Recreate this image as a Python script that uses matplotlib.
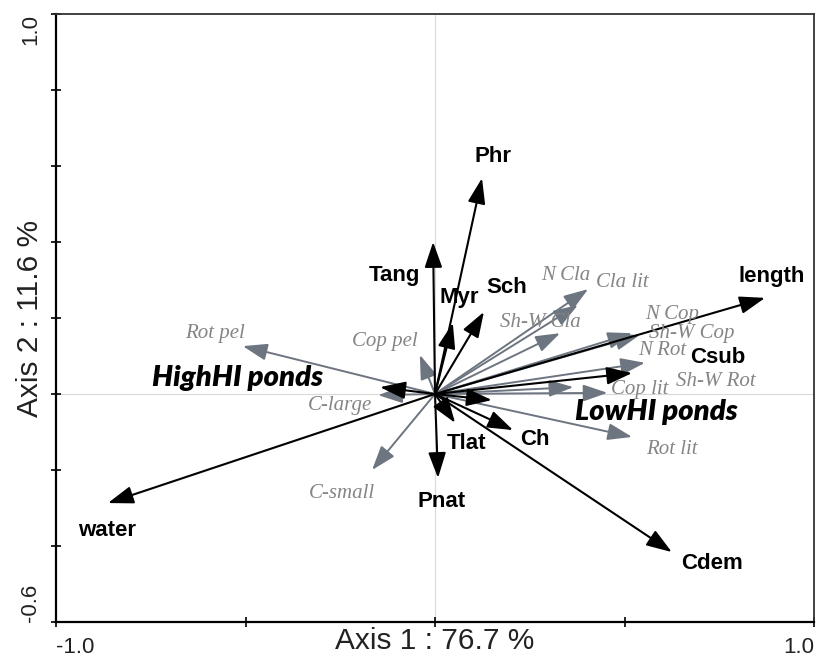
import matplotlib
matplotlib.use('Agg')
import matplotlib.pyplot as plt

# variables ambientales (flechas negras)
env_names = ['Phr', 'Tang', 'Myr', 'Sch', 'length', 'Csub', 'Cdem',
             'water', 'Pnat', 'Tlat', 'Ch']
env_x = [0.124, -0.005, 0.047, 0.129, 0.871, 0.520, 0.625,
         -0.863, 0.008, 0.053, 0.206]
env_y = [0.568, 0.400, 0.187, 0.216, 0.253, 0.055, -0.416,
         -0.287, -0.221, -0.076, -0.095]

# tipos de charca
pond_names = ['HighHI ponds', 'LowHI ponds']
pond_x = [-0.145, 0.150]
pond_y = [0.018, -0.016]

# grupos de zooplancton (flechas grises)
sp_names = ['Rot pel', 'Cop pel', 'C-large', 'C-small', 'Cla lit', 'N Cla',
            'Sh-W Cla', 'N Cop', 'Sh-W Cop', 'N Rot', 'Sh-W Rot', 'Cop lit',
            'Rot lit']
sp_x = [-0.507, -0.040, -0.150, -0.166, 0.404, 0.377,
        0.330, 0.520, 0.540, 0.554, 0.365, 0.455, 0.520]
sp_y = [0.126, 0.103, -0.003, -0.200, 0.276, 0.234,
        0.160, 0.160, 0.155, 0.082, 0.018, 0.003, -0.113]

# posiciones de las etiquetas (centro del texto)
env_lab = [(0.153, 0.624), (-0.106, 0.313), (0.063, 0.255), (0.190, 0.279),
           (0.889, 0.308), (0.747, 0.095), (0.731, -0.445), (-0.865, -0.358),
           (0.018, -0.284), (0.084, -0.129), (0.264, -0.121)]
pond_lab = [(-0.522, 0.042), (0.584, -0.047)]
sp_lab = [(-0.580, 0.160), (-0.132, 0.137), (-0.250, -0.029), (-0.245, -0.263),
          (0.493, 0.293), (0.346, 0.313), (0.277, 0.189), (0.625, 0.208),
          (0.678, 0.160), (0.600, 0.115), (0.741, 0.034), (0.541, 0.011),
          (0.625, -0.147)]

GRIS = '#6d7580'
GRIS_TXT = '#858585'

fig = plt.figure(figsize=(8.16, 6.6), dpi=100)
ax = fig.add_axes([56 / 816, 1 - 622 / 660, 758 / 816, 608 / 660])
ax.set_xlim(-1.0, 1.0)
ax.set_ylim(-0.6, 1.0)

ax.axhline(0, color='#d9d9d9', lw=0.8, zorder=0)
ax.axvline(0, color='#d9d9d9', lw=0.8, zorder=0)


def flecha(x, y, color, lw, ms):
    ax.annotate('', xy=(x, y), xytext=(0, 0),
                arrowprops=dict(arrowstyle='-|>,head_length=1.3,head_width=0.45',
                                color=color, lw=lw, shrinkA=0, shrinkB=0,
                                mutation_scale=ms))


for x, y in zip(sp_x, sp_y):
    flecha(x, y, GRIS, 1.4, 11.5)
for x, y in zip(env_x, env_y):
    flecha(x, y, 'black', 1.5, 12)
for x, y in zip(pond_x, pond_y):
    flecha(x, y, 'black', 1.5, 12)

for name, (lx, ly) in zip(sp_names, sp_lab):
    ax.text(lx, ly, name, ha='center', va='center', color=GRIS_TXT,
            family='Liberation Serif', style='italic', fontsize=15)
for name, (lx, ly) in zip(env_names, env_lab):
    ax.text(lx, ly, name, ha='center', va='center', color='black',
            family='Liberation Sans', weight='bold', fontsize=16)
for name, (lx, ly) in zip(pond_names, pond_lab):
    ax.text(lx, ly, name, ha='center', va='center', color='black',
            family='Lato', weight='heavy', style='italic', fontsize=21)

# ejes
ax.set_xticks([-1.0, -0.5, 0.0, 0.5, 1.0])
ax.set_xticklabels(['-1.0', '', '', '', '1.0'])
ax.set_yticks([-0.6, -0.4, -0.2, 0.0, 0.2, 0.4, 0.6, 0.8, 1.0])
ax.set_yticklabels(['-0.6', '', '', '', '', '', '', '', '1.0'], rotation=90)
ax.tick_params(direction='inout', length=7, width=1.2, labelsize=16,
               labelcolor='#222222')
ax.tick_params(axis='x', pad=7)
ax.tick_params(axis='y', pad=7)
for t in ax.get_xticklabels():
    t.set_family('Liberation Sans')
for t in ax.get_yticklabels():
    t.set_family('Liberation Sans')
xl = ax.get_xticklabels()
xl[0].set_ha('left')
xl[-1].set_ha('right')
yl = ax.get_yticklabels()
yl[0].set_va('bottom')
yl[-1].set_va('top')

for s in ['left', 'bottom']:
    ax.spines[s].set_linewidth(1.6)
    ax.spines[s].set_color('black')
for s in ['top', 'right']:
    ax.spines[s].set_linewidth(1.3)
    ax.spines[s].set_color('#333333')

ax.set_xlabel('Axis 1 : 76.7 %', family='Liberation Sans', fontsize=21.5,
              color='#222222', va='center')
ax.set_ylabel('Axis 2 : 11.6 %', family='Liberation Sans', fontsize=21.5,
              color='#222222', va='center')
ax.xaxis.set_label_coords(0.5, -0.031)
ax.yaxis.set_label_coords(-0.034, 0.5)

fig.savefig('out.png', dpi=100)
